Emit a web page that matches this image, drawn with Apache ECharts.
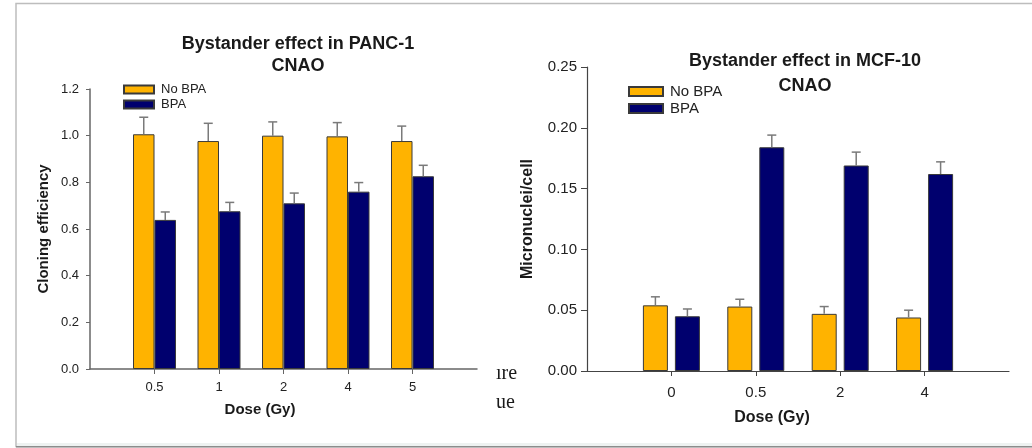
<!DOCTYPE html>
<html>
<head>
<meta charset="utf-8">
<script src="https://cdn.jsdelivr.net/npm/echarts@6/dist/echarts.min.js"></script>
<style>
html,body{margin:0;padding:0;background:#fff;}
#c{width:1032px;height:448px;}
</style>
</head>
<body>
<div id="c"></div>
<script>
// ---- Data: left chart (PANC-1) ----
const doseL = ['0.5', '1', '2', '4', '5'];
const noBpaL = [1.006, 0.977, 1.000, 0.997, 0.977];
const noBpaErrL = [0.073, 0.076, 0.059, 0.059, 0.064];
const bpaL = [0.639, 0.676, 0.710, 0.760, 0.826];
const bpaErrL = [0.034, 0.038, 0.044, 0.039, 0.047];
const yTicksL = [0, 0.2, 0.4, 0.6, 0.8, 1.0, 1.2];

// ---- Data: right chart (MCF-10) ----
const doseR = ['0', '0.5', '2', '4'];
const noBpaR = [0.054, 0.053, 0.047, 0.044];
const noBpaErrR = [0.007, 0.006, 0.006, 0.006];
const bpaR = [0.045, 0.184, 0.169, 0.162];
const bpaErrR = [0.006, 0.010, 0.011, 0.010];
const yTicksR = [0, 0.05, 0.10, 0.15, 0.20, 0.25];

const titleL = 'Bystander effect in PANC-1\nCNAO';
const titleR = 'Bystander effect in MCF-10\nCNAO';
const seriesNames = ['No BPA', 'BPA'];

// padded categories (empty slot on both ends)
const pad = arr => [''].concat(arr, ['']);
const padVals = arr => [null].concat(arr, [null]);
const errData = (vals, errs) => vals.map((v, i) => [i + 1, v, errs[i]]);

const YELLOW = '#FFB300';
const NAVY = '#00006E';
const BORDER = '#3a3a3a';
const ERRC = '#7a7a7a';

function errSeries(name, xi, yi, data, offset, cap) {
  return {
    type: 'custom', name: name, xAxisIndex: xi, yAxisIndex: yi, z: 5,
    silent: true,
    data: data,
    encode: { x: 0, y: 1 },
    renderItem: function (params, api) {
      const idx = api.value(0), m = api.value(1), e = api.value(2);
      const b = api.coord([idx, m]);
      const t = api.coord([idx, m + e]);
      const x = b[0] + offset;
      return {
        type: 'group',
        children: [
          { type: 'line', shape: { x1: x, y1: b[1], x2: x, y2: t[1] }, style: { stroke: ERRC, lineWidth: 1.5 } },
          { type: 'line', shape: { x1: x - cap / 2, y1: t[1], x2: x + cap / 2, y2: t[1] }, style: { stroke: ERRC, lineWidth: 1.5 } }
        ]
      };
    }
  };
}

const tickShow = (i, v) => v !== '';

const chart = echarts.init(document.getElementById('c'), null, { renderer: 'canvas' });
const option = {
  backgroundColor: '#ffffff',
  animation: false,
  textStyle: { fontFamily: 'Liberation Sans, Arial, sans-serif' },
  graphic: [
    { type: 'rect', z: -10, shape: { x: 16, y: 3.5, width: 1030, height: 443 },
      style: { fill: '#ffffff', stroke: '#bdbdbd', lineWidth: 1.5 } },
    { type: 'rect', z: -9, shape: { x: 17, y: 443, width: 1020, height: 3 }, style: { fill: '#eef2f1' } },
    { type: 'line', z: -8, shape: { x1: 16, y1: 446.8, x2: 1032, y2: 446.8 }, style: { stroke: '#8c8c8c', lineWidth: 1.5 } },
    { type: 'text', left: 496, top: 364, style: { text: 'ıre', font: '20px "Liberation Serif", serif', fill: '#1a1a1a' } },
    { type: 'text', left: 496, top: 393, style: { text: 'ue', font: '20px "Liberation Serif", serif', fill: '#1a1a1a' } }
  ],
  title: [
    { text: titleL, left: 293, top: 28, textAlign: 'center',
      textStyle: { fontFamily: 'Liberation Sans', fontWeight: 'bold', fontSize: 18, lineHeight: 22, color: '#1a1a1a' } },
    { text: titleR, left: 800, top: 44, textAlign: 'center',
      textStyle: { fontFamily: 'Liberation Sans', fontWeight: 'bold', fontSize: 18, lineHeight: 25, color: '#1a1a1a' } }
  ],
  legend: [
    { data: seriesNames, orient: 'vertical', left: 118, top: 78, itemWidth: 30, itemHeight: 8, itemGap: 2,
      icon: 'rect', selectedMode: false,
      textStyle: { fontSize: 13, lineHeight: 13, color: '#222', padding: [0, 0, 0, 2] } },
    { data: seriesNames, orient: 'vertical', left: 623, top: 79, itemWidth: 34, itemHeight: 9, itemGap: 2,
      icon: 'rect', selectedMode: false,
      textStyle: { fontSize: 15, lineHeight: 15, color: '#222', padding: [0, 0, 0, 2] } }
  ],
  grid: [
    { left: 90, top: 89, width: 387, height: 280, containLabel: false },
    { left: 587, top: 67, width: 422, height: 304, containLabel: false }
  ],
  xAxis: [
    { type: 'category', gridIndex: 0, data: pad(doseL), boundaryGap: false,
      name: 'Dose (Gy)', nameLocation: 'middle', nameGap: 33,
      nameTextStyle: { fontWeight: 'bold', fontSize: 15, color: '#1a1a1a', padding: [0, 47, 0, 0] },
      axisLine: { show: true, lineStyle: { color: '#666', width: 1.5 } },
      axisTick: { show: true, length: 5, interval: tickShow, lineStyle: { color: '#666' } },
      axisLabel: { interval: tickShow, margin: 12, fontSize: 13, color: '#222' },
      splitLine: { show: false } },
    { type: 'category', gridIndex: 1, data: pad(doseR), boundaryGap: false,
      name: 'Dose (Gy)', nameLocation: 'middle', nameGap: 39,
      nameTextStyle: { fontWeight: 'bold', fontSize: 16, color: '#1a1a1a', padding: [0, 52, 0, 0] },
      axisLine: { show: true, lineStyle: { color: '#444', width: 1.2 } },
      axisTick: { show: true, length: 5, interval: tickShow, lineStyle: { color: '#444' } },
      axisLabel: { interval: tickShow, margin: 14, fontSize: 15, color: '#222' },
      splitLine: { show: false } }
  ],
  yAxis: [
    { type: 'value', gridIndex: 0, min: yTicksL[0], max: yTicksL[yTicksL.length - 1], interval: 0.2,
      name: 'Cloning efficiency', nameLocation: 'middle', nameGap: 39,
      nameTextStyle: { fontWeight: 'bold', fontSize: 15, color: '#1a1a1a' },
      axisLine: { show: true, lineStyle: { color: '#666', width: 1.5 } },
      axisTick: { show: true, length: 4, lineStyle: { color: '#666' } },
      axisLabel: { margin: 11, fontSize: 13, color: '#222', formatter: v => v.toFixed(1) },
      splitLine: { show: false } },
    { type: 'value', gridIndex: 1, min: yTicksR[0], max: yTicksR[yTicksR.length - 1], interval: 0.05,
      name: 'Micronuclei/cell', nameLocation: 'middle', nameGap: 51,
      nameTextStyle: { fontWeight: 'bold', fontSize: 16, color: '#1a1a1a' },
      axisLine: { show: true, lineStyle: { color: '#444', width: 1.2 } },
      axisTick: { show: true, length: 6, lineStyle: { color: '#444' } },
      axisLabel: { margin: 10, fontSize: 15, color: '#222', formatter: v => v.toFixed(2) },
      splitLine: { show: false } }
  ],
  series: [
    { name: 'No BPA', type: 'bar', xAxisIndex: 0, yAxisIndex: 0, data: padVals(noBpaL),
      barWidth: 21.5, barGap: '0%', itemStyle: { color: YELLOW, borderColor: BORDER, borderWidth: 1 } },
    { name: 'BPA', type: 'bar', xAxisIndex: 0, yAxisIndex: 0, data: padVals(bpaL),
      barWidth: 21.5, barGap: '0%', itemStyle: { color: NAVY, borderColor: BORDER, borderWidth: 1 } },
    { name: 'No BPA', type: 'bar', xAxisIndex: 1, yAxisIndex: 1, data: padVals(noBpaR),
      barWidth: 25, barGap: '28%', itemStyle: { color: YELLOW, borderColor: BORDER, borderWidth: 1 } },
    { name: 'BPA', type: 'bar', xAxisIndex: 1, yAxisIndex: 1, data: padVals(bpaR),
      barWidth: 25, barGap: '28%', itemStyle: { color: NAVY, borderColor: BORDER, borderWidth: 1 } },
    errSeries('errNoL', 0, 0, errData(noBpaL, noBpaErrL), -10.75, 9),
    errSeries('errBpaL', 0, 0, errData(bpaL, bpaErrL), 10.75, 9),
    errSeries('errNoR', 1, 1, errData(noBpaR, noBpaErrR), -16, 9),
    errSeries('errBpaR', 1, 1, errData(bpaR, bpaErrR), 16, 9)
  ]
};
chart.setOption(option);
</script>
</body>
</html>
